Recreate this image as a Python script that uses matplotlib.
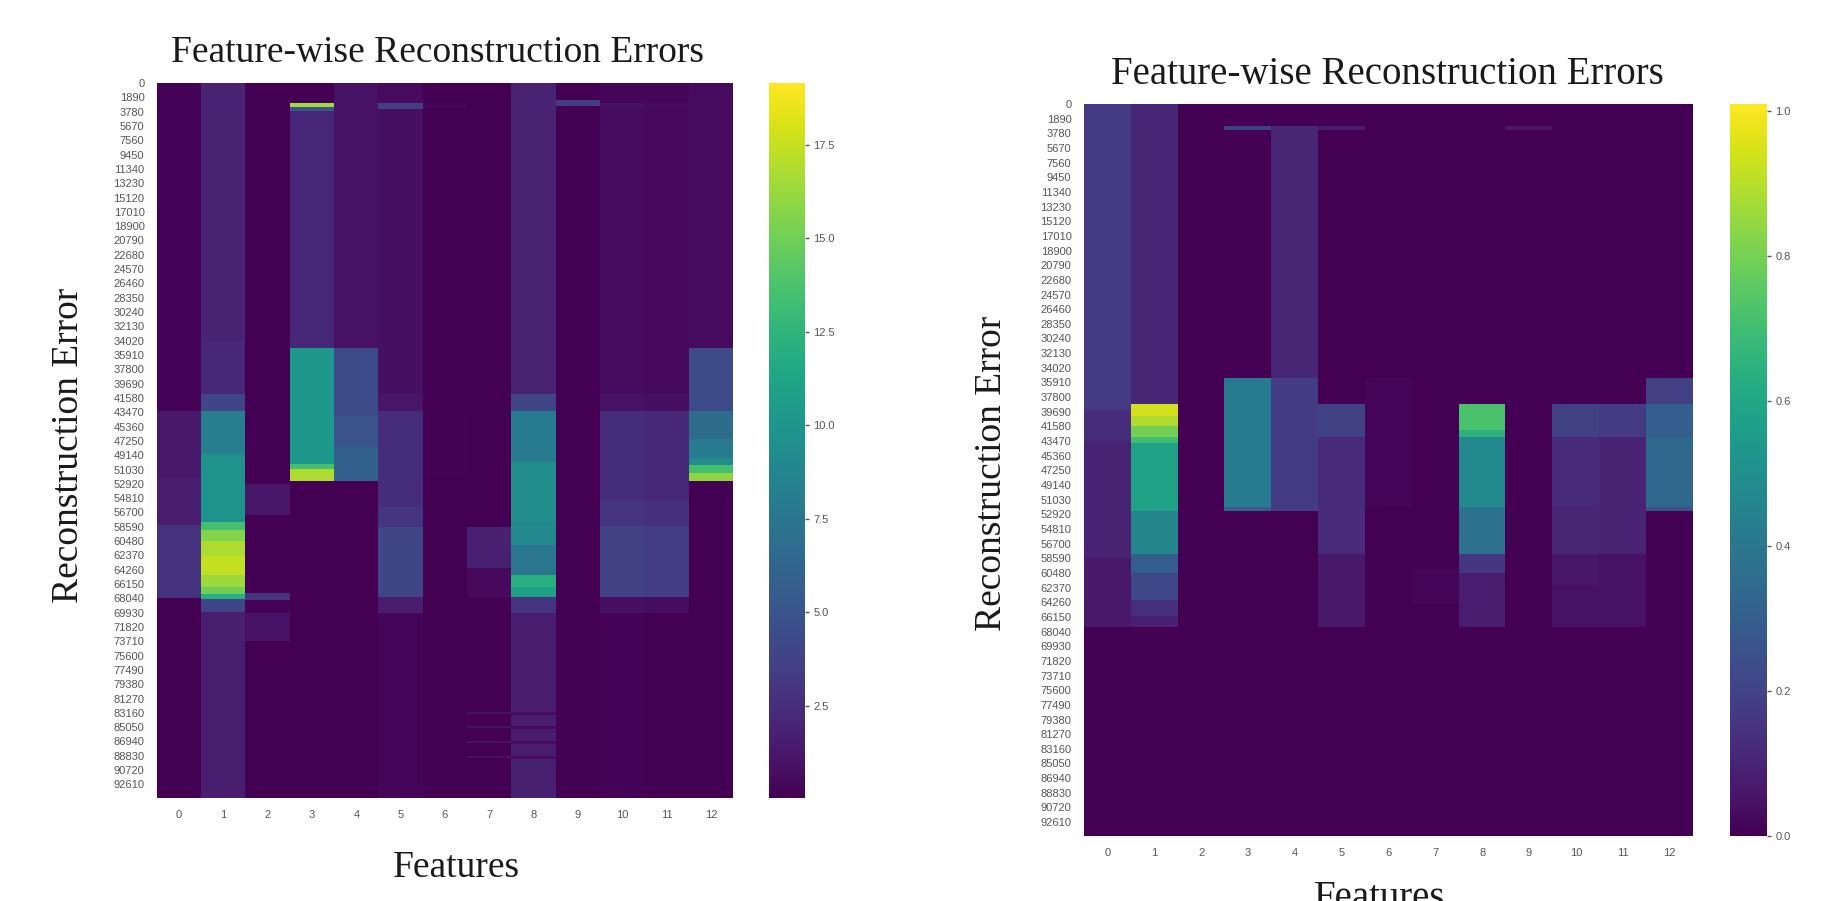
import numpy as np
import matplotlib
matplotlib.use('Agg')
import matplotlib.pyplot as plt

W, H = 1833, 901
N_ROWS = 94400
STEP = 100

features = list(range(13))
row_ticks = list(range(0, 92611, 1890))

# left heatmap: row where each band ends, and the value of that band
left_ends = [
    [43300, 52000, 58300, 68000, N_ROWS],
    [34000, 41000, 43300, 49000, 58000, 59000, 60500, 62500, 65000, 66500, 67500, 68100, 69900, N_ROWS],
    [52900, 57000, 67300, 68300, 70000, 73700, N_ROWS],
    [2550, 3200, 3700, 35000, 50300, 51000, 52600, N_ROWS],
    [35000, 44000, 48000, 52600, N_ROWS],
    [2600, 3400, 41000, 43300, 56000, 58600, 67800, 70000, N_ROWS],
    [2600, 3300, 43000, 52000, N_ROWS],
    [58600, 64000, 68000, 83000, 83300, 84900, 85200, 86900, 87200, 88800, 89100, N_ROWS],
    [41000, 43300, 50000, 58000, 61000, 65000, 66500, 67800, 70000, 83000, 83400, 84900, 85300, 86900, 87300, 88800, 89200, N_ROWS],
    [2200, 3000, N_ROWS],
    [2600, 3300, 41000, 43300, 55000, 58500, 67800, 70000, N_ROWS],
    [2600, 3300, 41000, 43300, 55000, 58500, 67800, 70000, N_ROWS],
    [35000, 43300, 47000, 49500, 50500, 51500, 52600, N_ROWS],
]
left_vals = [
    [0.2, 1.3, 1.5, 2.8, 0.1],
    [1.9, 2.2, 4.0, 8.2, 9.8, 13.5, 15.5, 16.8, 17.4, 16.3, 15.0, 12.0, 4.0, 1.6],
    [0.1, 1.2, 0.1, 3.0, 0.2, 1.0, 0.1],
    [0.1, 16.5, 5.0, 2.2, 10.2, 13.5, 16.8, 0.1],
    [1.0, 4.3, 4.9, 6.0, 0.05],
    [0.6, 3.5, 0.8, 1.2, 2.5, 3.0, 4.0, 1.5, 0.3],
    [0.1, 0.4, 0.05, 0.15, 0.05],
    [0.1, 1.8, 0.5, 0.1, 1.0, 0.1, 1.0, 0.1, 1.0, 0.1, 1.0, 0.1],
    [1.9, 4.0, 8.0, 9.5, 9.0, 7.5, 12.0, 11.0, 3.0, 1.5, 0.6, 1.5, 0.6, 1.5, 0.6, 1.5, 0.6, 1.7],
    [0.05, 3.5, 0.05],
    [0.4, 0.9, 0.6, 1.0, 2.5, 2.9, 3.8, 0.8, 0.2],
    [0.3, 0.6, 0.5, 0.8, 2.2, 2.6, 3.5, 0.7, 0.1],
    [0.6, 4.5, 6.8, 8.0, 9.5, 13.5, 16.0, 0.1],
]

# right heatmap
right_ends = [
    [39500, 43500, 58600, 67500, N_ROWS],
    [38700, 40200, 41500, 43000, 43700, 52500, 58000, 60500, 64000, 66000, 67500, N_ROWS],
    [N_ROWS],
    [2900, 3400, 35400, 52000, 52500, N_ROWS],
    [2900, 35400, 52500, N_ROWS],
    [2900, 3400, 38700, 43000, 58000, 67500, N_ROWS],
    [35400, 52000, N_ROWS],
    [60000, 64500, N_ROWS],
    [38700, 42000, 43000, 52000, 58000, 60500, 67500, N_ROWS],
    [2900, 3400, N_ROWS],
    [38700, 43000, 52000, 58000, 62000, 67500, N_ROWS],
    [38700, 43000, 58000, 67500, N_ROWS],
    [35400, 38700, 43000, 52000, 52500, N_ROWS],
]
right_vals = [
    [0.17, 0.13, 0.10, 0.07, 0.0],
    [0.11, 0.94, 0.89, 0.80, 0.70, 0.58, 0.46, 0.30, 0.22, 0.14, 0.09, 0.0],
    [0.0],
    [0.0, 0.2, 0.0, 0.42, 0.3, 0.0],
    [0.0, 0.11, 0.18, 0.0],
    [0.0, 0.08, 0.0, 0.2, 0.12, 0.07, 0.0],
    [0.0, 0.015, 0.0],
    [0.0, 0.015, 0.0],
    [0.0, 0.72, 0.65, 0.48, 0.38, 0.16, 0.08, 0.0],
    [0.0, 0.06, 0.0],
    [0.0, 0.2, 0.12, 0.11, 0.06, 0.05, 0.0],
    [0.0, 0.17, 0.1, 0.05, 0.0],
    [0.0, 0.19, 0.3, 0.34, 0.25, 0.0],
]


def band_matrix(ends, vals):
    rows = np.arange(0, N_ROWS, STEP) + STEP / 2
    m = np.zeros((len(rows), len(ends)))
    for j in range(len(ends)):
        m[:, j] = np.array(vals[j])[np.searchsorted(ends[j], rows)]
    return m


def px_axes(fig, x0, y0, x1, y1):
    return fig.add_axes([x0 / W, 1 - y1 / H, (x1 - x0) / W, (y1 - y0) / H])


def draw_panel(fig, ends, vals, box, cbox, vmin, vmax, cticks):
    ax = px_axes(fig, *box)
    im = ax.imshow(band_matrix(ends, vals), cmap='viridis', vmin=vmin, vmax=vmax,
                   aspect='auto', interpolation='nearest',
                   extent=(0, len(features), N_ROWS, 0))
    ax.set_xticks(np.array(features) + 0.5, features)
    ax.set_yticks(row_ticks, row_ticks)
    ax.tick_params(length=0, labelsize=8, labelcolor='#555555', pad=9)
    for s in ax.spines.values():
        s.set_visible(False)
    cax = px_axes(fig, *cbox)
    cb = fig.colorbar(im, cax=cax)
    cb.set_ticks(cticks)
    cb.outline.set_visible(False)
    cax.tick_params(length=3, width=1, color='#555555', labelsize=8, labelcolor='#555555', pad=3)
    return ax


plt.rcParams['font.family'] = ['Liberation Sans']
fig = plt.figure(figsize=(W / 100, H / 100), dpi=100)

draw_panel(fig, left_ends, left_vals, (157, 83, 733, 798), (769, 83, 805, 798),
           0.03, 19.15, [2.5, 5.0, 7.5, 10.0, 12.5, 15.0, 17.5])
draw_panel(fig, right_ends, right_vals, (1084, 104, 1693, 836), (1730, 104, 1767, 836),
           0.0, 1.01, [0.0, 0.2, 0.4, 0.6, 0.8, 1.0])

serif = {'family': 'Liberation Serif', 'color': '#1a1a1a', 'ha': 'center', 'va': 'center'}
fig.text(438 / W, 1 - 53 / H, 'Feature-wise Reconstruction Errors', fontsize=27, **serif)
fig.text(1387 / W, 1 - 74 / H, 'Feature-wise Reconstruction Errors', fontsize=28, **serif)
fig.text(69 / W, 1 - 445 / H, 'Reconstruction Error', fontsize=27, rotation=90, **serif)
fig.text(992 / W, 1 - 473 / H, 'Reconstruction Error', fontsize=27, rotation=90, **serif)
fig.text(456 / W, 1 - 868 / H, 'Features', fontsize=27, **serif)
fig.text(1380 / W, 1 - 898 / H, 'Features', fontsize=28, **serif)

fig.savefig('out.png', dpi=100)
